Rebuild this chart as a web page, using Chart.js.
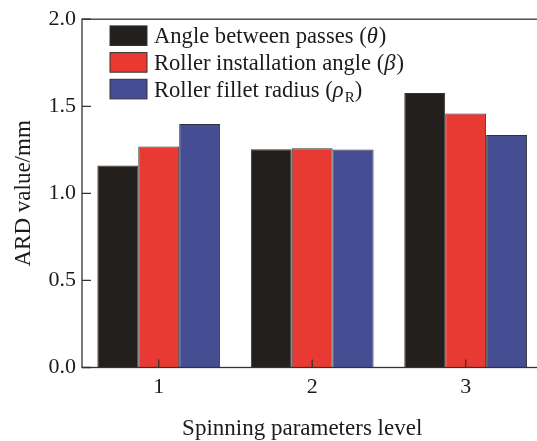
<!DOCTYPE html>
<html>
<head>
<meta charset="utf-8">
<script src="https://cdn.jsdelivr.net/npm/chart.js@4.4.1/dist/chart.umd.min.js"></script>
<style>
  html, body { margin: 0; padding: 0; background: #fff; overflow: hidden; }
  canvas { display: block; }
</style>
</head>
<body>
<canvas id="chart" width="560" height="441"></canvas>
<script>
// Datos
const levels = ['1', '2', '3'];
const seriesLabels = ['Angle between passes (θ)', 'Roller installation angle (β)', 'Roller fillet radius (ρR)'];
const anglePasses = [1.16, 1.253, 1.576];
const installAngle = [1.269, 1.259, 1.458];
const filletRadius = [1.398, 1.252, 1.335];
const yTicks = [0, 0.5, 1.0, 1.5, 2.0];

// Partes del texto de la leyenda: n = normal, i = cursiva, s = subíndice
const legendParts = [
    [['Angle between passes (', 'n'], ['θ', 'i'], [')', 'n']],
    [['Roller installation angle (', 'n'], ['β', 'i'], [')', 'n']],
    [['Roller fillet radius (', 'n'], ['ρ', 'i'], ['R', 's'], [')', 'n']]
];

const colors = ['#231f1c', '#e83a33', '#454e93'];
const edge = '#333333';
const ink = '#1c1a1a';
const serif = '"Liberation Serif", "Times New Roman", serif';

// Marco, marcas interiores, leyenda y título del eje X
const framePlugin = {
    id: 'framePlugin',
    afterDraw(chart) {
        const { ctx, chartArea: a, scales } = chart;
        ctx.save();
        ctx.strokeStyle = edge;
        ctx.lineWidth = 1.3;
        ctx.strokeRect(a.left, a.top, a.right - a.left, a.bottom - a.top);

        ctx.beginPath();
        scales.y.ticks.forEach((t, i) => {
            const py = scales.y.getPixelForTick(i);
            ctx.moveTo(a.left, py);
            ctx.lineTo(a.left + 9, py);
        });
        scales.x.ticks.forEach((t, i) => {
            const px = scales.x.getPixelForTick(i);
            ctx.moveTo(px, a.bottom);
            ctx.lineTo(px, a.bottom - 8);
        });
        ctx.stroke();

        // Leyenda dentro del área del gráfico
        const boxX = a.left + 28;
        const textX = boxX + 44;
        chart.data.datasets.forEach((ds, i) => {
            const cy = a.top + 16.5 + i * 26.7;
            ctx.fillStyle = ds.backgroundColor;
            ctx.fillRect(boxX, cy - 9.8, 37, 19.6);
            ctx.lineWidth = 1;
            ctx.strokeStyle = edge;
            ctx.strokeRect(boxX, cy - 9.8, 37, 19.6);

            let x = textX;
            ctx.fillStyle = ink;
            ctx.textBaseline = 'alphabetic';
            const base = cy + 7.5;
            legendParts[i].forEach(([txt, kind]) => {
                if (kind === 'i') ctx.font = 'italic 22.6px ' + serif;
                else if (kind === 's') ctx.font = '15px ' + serif;
                else ctx.font = '22.6px ' + serif;
                ctx.fillText(txt, x, kind === 's' ? base + 5 : base);
                x += ctx.measureText(txt).width + (kind === 'i' ? 1 : 0);
            });
        });

        // Título del eje X
        ctx.font = '23px ' + serif;
        ctx.fillStyle = ink;
        ctx.textAlign = 'center';
        ctx.textBaseline = 'alphabetic';
        ctx.fillText('Spinning parameters level', (a.left + a.right) / 2 - 10, 435);
        ctx.restore();
    }
};

new Chart(document.getElementById('chart'), {
    type: 'bar',
    data: {
        labels: levels,
        datasets: [
            { label: seriesLabels[0], data: anglePasses, backgroundColor: colors[0] },
            { label: seriesLabels[1], data: installAngle, backgroundColor: colors[1] },
            { label: seriesLabels[2], data: filletRadius, backgroundColor: colors[2] }
        ].map(ds => Object.assign(ds, {
            borderColor: edge,
            borderWidth: 1,
            categoryPercentage: 0.8,
            barPercentage: 1.0
        }))
    },
    options: {
        responsive: false,
        animation: false,
        layout: { padding: { left: 0, right: 17.6, top: 16, bottom: 0 } },
        plugins: {
            legend: { display: false },
            tooltip: { enabled: false }
        },
        scales: {
            x: {
                grid: { display: false, drawTicks: false },
                border: { display: false },
                ticks: { color: ink, padding: 7, font: { family: serif, size: 22 } },
                afterFit(scale) { scale.height = 73.5; }
            },
            y: {
                min: 0,
                max: 2,
                afterBuildTicks(scale) { scale.ticks = yTicks.map(v => ({ value: v })); },
                grid: { display: false, drawTicks: false },
                border: { display: false },
                ticks: {
                    color: ink,
                    padding: 6,
                    font: { family: serif, size: 22 },
                    callback: v => v.toFixed(1)
                },
                title: {
                    display: true,
                    text: 'ARD value/mm',
                    color: ink,
                    padding: { top: 10, bottom: 0 },
                    font: { family: serif, size: 23 }
                },
                afterFit(scale) { scale.width = 82; }
            }
        }
    },
    plugins: [framePlugin]
});
</script>
</body>
</html>
